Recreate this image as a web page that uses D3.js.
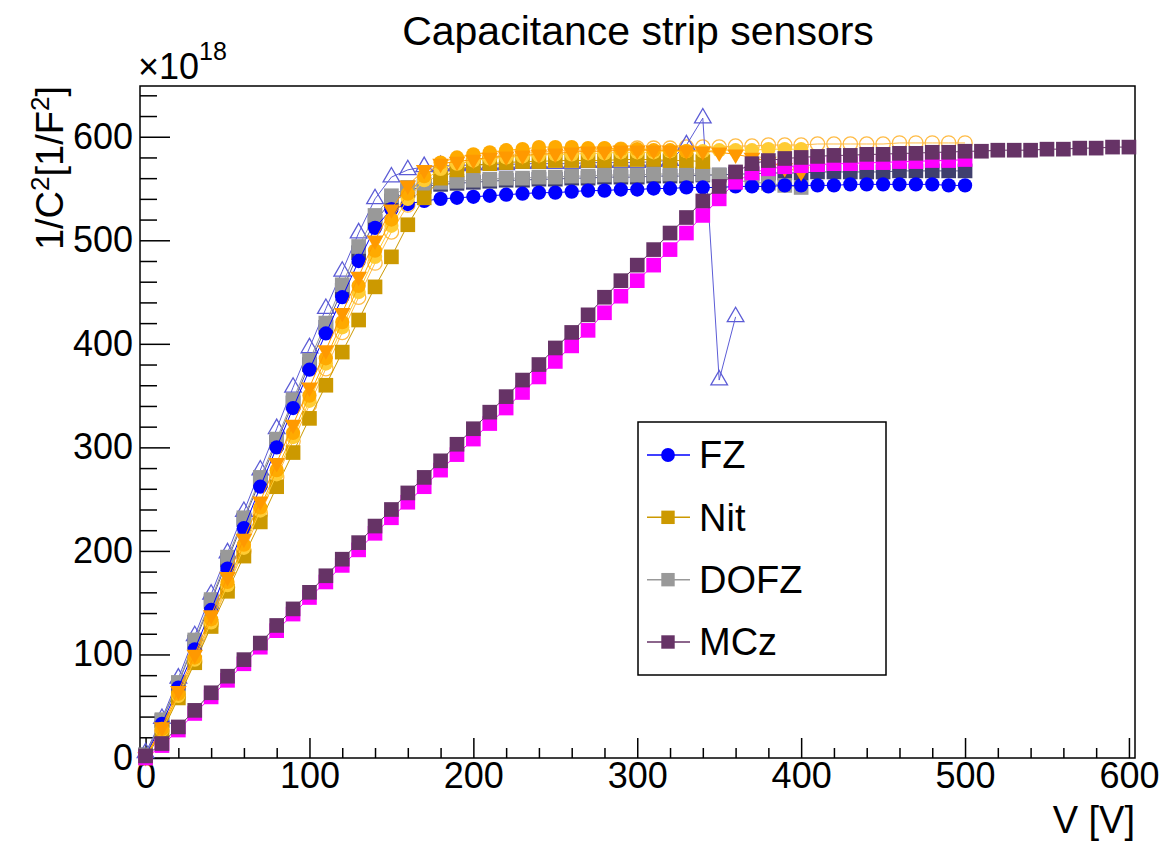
<!DOCTYPE html>
<html lang="en">
<head>
<meta charset="UTF-8">
<title>Capacitance strip sensors</title>
<script src="https://cdn.jsdelivr.net/npm/d3@7"></script>
<style>
  body { margin: 0; background: #fff; }
  text { font-family: "Liberation Sans", Arial, Helvetica, sans-serif; fill: #000; }
</style>
</head>
<body>
<svg width="1160" height="842"></svg>
<script>
// bias voltage points [V]
var voltage = [0, 10, 20, 30, 40, 50, 60, 70, 80, 90, 100, 110, 120, 130, 140, 150, 160, 170, 180, 190,
  200, 210, 220, 230, 240, 250, 260, 270, 280, 290, 300, 310, 320, 330, 340, 350, 360, 370, 380, 390,
  400, 410, 420, 430, 440, 450, 460, 470, 480, 490, 500, 510, 520, 530, 540, 550, 560, 570, 580, 590, 600];

// 1/C^2 in units of 1e18 1/F^2
var fzCircles = [2, 33, 68, 105, 143, 183, 222, 262, 300, 338, 375, 410, 445, 480, 512, 530, 535, 538, 540, 541,
  542, 543, 544, 545, 546, 546, 547, 548, 548, 549, 549, 550, 550, 551, 551, 551, 552, 552, 552, 553,
  553, 553, 553, 554, 554, 554, 554, 554, 554, 553, 553];
var fzTriangles = [5, 38, 77, 118, 158, 198, 238, 278, 318, 358, 396, 434, 470, 507, 540, 561, 568, 571, 572, 572,
  573, 573, 573, 574, 574, 574, 574, 575, 575, 575, 575, 576, 577, 592, 618, 365, 426];
var dofzA = [3, 37, 73, 114, 153, 194, 232, 271, 308, 346, 384, 420, 457, 494, 524, 543, 551, 554, 556, 557,
  558, 559, 560, 560, 561, 561, 562, 562, 563, 563, 563, 564, 564, 564, 564, 563, 558, 556, 555, 553, 551];
var dofzB = [3, 36, 72, 112, 151, 191, 230, 268, 305, 343, 380, 416, 452, 488, 518, 538, 548, 552, 554, 555,
  556, 557, 558, 558, 559, 559, 560, 560, 561, 561, 561, 562, 562, 562, 563, 563, 564, 564, 565, 565,
  565, 566, 566, 566, 566, 566, 567, 567, 567, 567, 567];
var nitSquares = [0, 25, 58, 92, 127, 161, 195, 228, 262, 295, 328, 360, 392, 423, 455, 484, 515, 541, 560, 568,
  572, 574, 575, 576, 576, 577, 577, 577, 577, 578, 578, 578, 577, 577, 576];
var nitTriDown = [1, 30, 65, 100, 138, 175, 212, 248, 285, 322, 358, 394, 430, 465, 500, 530, 553, 568, 574, 576,
  578, 580, 581, 582, 583, 584, 585, 586, 586, 587, 587, 587, 587, 587, 586, 585, 583, 580, 576, 570, 566];
var nitCircles = [1, 28, 62, 97, 134, 170, 206, 242, 278, 314, 350, 386, 421, 456, 490, 520, 545, 562, 575, 580,
  583, 585, 587, 588, 590, 590, 590, 589, 589, 588, 588, 587, 587, 586];
var nitYellow = [1, 27, 60, 95, 131, 167, 203, 239, 274, 310, 345, 381, 416, 450, 484, 514, 540, 558, 569, 574,
  577, 579, 580, 581, 582, 583, 583, 584, 584, 585, 585, 585, 586, 586, 586, 587, 587, 587, 588, 588, 588];
var nitOpen = [1, 26, 59, 93, 129, 165, 200, 236, 271, 306, 341, 376, 411, 445, 478, 508, 534, 553, 566, 573,
  577, 580, 582, 584, 585, 586, 587, 587, 588, 588, 589, 589, 589, 590, 590, 590, 591, 591, 592, 592,
  592, 593, 593, 593, 593, 593, 594, 594, 594, 594, 594];
var mczPurple = [2, 14, 30, 46, 63, 79, 95, 111, 128, 144, 160, 176, 192, 208, 224, 240, 256, 271, 287, 303,
  318, 334, 349, 365, 380, 396, 411, 428, 445, 461, 476, 491, 507, 522, 538, 552, 566, 574, 577, 579,
  580, 581, 582, 582, 583, 583, 584, 584, 585, 585, 586, 586, 587, 587, 587, 588, 588, 589, 589, 590, 590];
var mczMagenta = [0, 12, 27, 43, 59, 75, 91, 107, 123, 139, 155, 170, 186, 201, 217, 232, 247, 262, 278, 293,
  308, 323, 338, 353, 368, 383, 398, 413, 430, 446, 461, 476, 491, 507, 524, 540, 556, 565, 569, 571,
  572, 573, 574, 574, 575, 575, 576, 576, 577, 577, 578];

var xTicks = [0, 100, 200, 300, 400, 500, 600];
var yTicks = [0, 100, 200, 300, 400, 500, 600];
var legendNames = ["FZ", "Nit", "DOFZ", "MCz"];

var svg = d3.select("svg");
var frameL = 140, frameR = 1135, frameT = 86, frameB = 758;

var x = d3.scaleLinear().domain([-3.4, 603.7]).range([frameL, frameR]);
var y = d3.scaleLinear().domain([0, 649]).range([frameB, frameT]);

// series, drawn in this order
var series = [
  {vals: nitOpen,    color: "#ffbb44", line: "#ffbb44", shape: "circle",  open: true},
  {vals: dofzB,      color: "#40406e", line: "#5a5a8a", shape: "square"},
  {vals: fzTriangles,color: "#5c5cd6", line: "#5c5cd6", shape: "triangle", open: true},
  {vals: dofzA,      color: "#999999", line: "#999999", shape: "square"},
  {vals: fzCircles,  color: "#0000ff", line: "#0000ff", shape: "circle"},
  {vals: nitSquares, color: "#cc9900", line: "#cc9900", shape: "square"},
  {vals: nitYellow,  color: "#ffcc33", line: "#ffcc33", shape: "circle"},
  {vals: nitCircles, color: "#ffaa00", line: "#ffaa00", shape: "circle"},
  {vals: nitTriDown, color: "#ff9900", line: "#ff9900", shape: "triangleDown"},
  {vals: mczMagenta, color: "#ff00ff", line: "#ff00ff", shape: "square"},
  {vals: mczPurple,  color: "#663366", line: "#663366", shape: "square"}
];

function symbolPath(shape) {
  if (shape == "circle") return d3.symbol(d3.symbolCircle, 160)();
  if (shape == "square") return d3.symbol(d3.symbolSquare, 215)();
  return d3.symbol(d3.symbolTriangle, 120)();
}

// axis ticks (inward)
var xMinor = d3.range(0, 601, 20).filter(function(d) { return d % 100 != 0; });
var yMinor = d3.range(0, 649, 20).filter(function(d) { return d % 100 != 0; });

var gx = svg.append("g").attr("transform", "translate(0," + frameB + ")");
gx.call(d3.axisBottom(x).tickValues(xMinor).tickSizeInner(-10).tickSizeOuter(0).tickFormat(""));
gx.select(".domain").remove();
var gx2 = svg.append("g").attr("transform", "translate(0," + frameB + ")");
gx2.call(d3.axisBottom(x).tickValues(xTicks).tickSizeInner(-20).tickSizeOuter(0).tickPadding(4));
gx2.select(".domain").remove();

var gy = svg.append("g").attr("transform", "translate(" + frameL + ",0)");
gy.call(d3.axisLeft(y).tickValues(yMinor).tickSizeInner(-17).tickSizeOuter(0).tickFormat(""));
gy.select(".domain").remove();
var gy2 = svg.append("g").attr("transform", "translate(" + frameL + ",0)");
gy2.call(d3.axisLeft(y).tickValues(yTicks).tickSizeInner(-30).tickSizeOuter(0).tickPadding(7));
gy2.select(".domain").remove();

svg.selectAll(".tick line").attr("stroke", "#000").attr("stroke-width", 1.5);
svg.selectAll(".tick text").style("font-size", "36px")
  .style("font-family", "'Liberation Sans', Arial, sans-serif");

// frame
svg.append("rect")
  .attr("x", frameL).attr("y", frameT)
  .attr("width", frameR - frameL).attr("height", frameB - frameT)
  .attr("fill", "none").attr("stroke", "#000").attr("stroke-width", 1.5);

// graphs
var line = d3.line()
  .x(function(d) { return x(d[0]); })
  .y(function(d) { return y(d[1]); });

series.forEach(function(s) {
  var pts = s.vals.map(function(v, i) { return [voltage[i], v]; });
  var g = svg.append("g");
  g.append("path").datum(pts)
    .attr("d", line)
    .attr("fill", "none")
    .attr("stroke", s.line)
    .attr("stroke-width", 1);
  g.selectAll("path.m").data(pts).enter().append("path")
    .attr("class", "m")
    .attr("d", symbolPath(s.shape))
    .attr("transform", function(d) {
      var t = "translate(" + x(d[0]) + "," + y(d[1]) + ")";
      return s.shape == "triangleDown" ? t + " rotate(180)" : t;
    })
    .attr("fill", s.open ? "none" : s.color)
    .attr("stroke", s.open ? s.color : "none")
    .attr("stroke-width", 1.3);
});

// title and axis titles
svg.append("text")
  .attr("x", 638).attr("y", 45)
  .attr("text-anchor", "middle")
  .style("font-size", "41px")
  .text("Capacitance strip sensors");

svg.append("text")
  .attr("x", frameR).attr("y", 833)
  .attr("text-anchor", "end")
  .style("font-size", "38px")
  .text("V [V]");

var yt = svg.append("text")
  .attr("transform", "translate(63," + frameT + ") rotate(-90)")
  .attr("text-anchor", "end")
  .style("font-size", "38px");
yt.append("tspan").text("1/C");
yt.append("tspan").attr("dy", -14).style("font-size", "26px").text("2");
yt.append("tspan").attr("dy", 14).text("[1/F");
yt.append("tspan").attr("dy", -14).style("font-size", "26px").text("2");
yt.append("tspan").attr("dy", 14).text("]");

var ex = svg.append("text")
  .attr("x", 138).attr("y", 79)
  .style("font-size", "36px");
ex.append("tspan").text("\u00d710");
ex.append("tspan").attr("dy", -19).style("font-size", "25px").text("18");

// legend
var legendStyle = [
  {color: "#0000ff", shape: "circle"},
  {color: "#cc9900", shape: "square"},
  {color: "#999999", shape: "square"},
  {color: "#663366", shape: "square"}
];
var lg = svg.append("g");
lg.append("rect")
  .attr("x", 638).attr("y", 422).attr("width", 248).attr("height", 253)
  .attr("fill", "#fff").attr("stroke", "#000").attr("stroke-width", 1.5);
var ly = d3.scalePoint().domain(legendNames).range([455, 642]);
legendNames.forEach(function(name, i) {
  var yy = ly(name);
  var st = legendStyle[i];
  lg.append("line")
    .attr("x1", 647).attr("x2", 690).attr("y1", yy).attr("y2", yy)
    .attr("stroke", st.color).attr("stroke-width", 1.5);
  lg.append("path")
    .attr("d", st.shape == "circle" ? d3.symbol(d3.symbolCircle, 150)() : d3.symbol(d3.symbolSquare, 180)())
    .attr("transform", "translate(668," + yy + ")")
    .attr("fill", st.color);
  lg.append("text")
    .attr("x", 699).attr("y", yy).attr("dy", "0.35em")
    .style("font-size", "38px")
    .text(name);
});
</script>
</body>
</html>
